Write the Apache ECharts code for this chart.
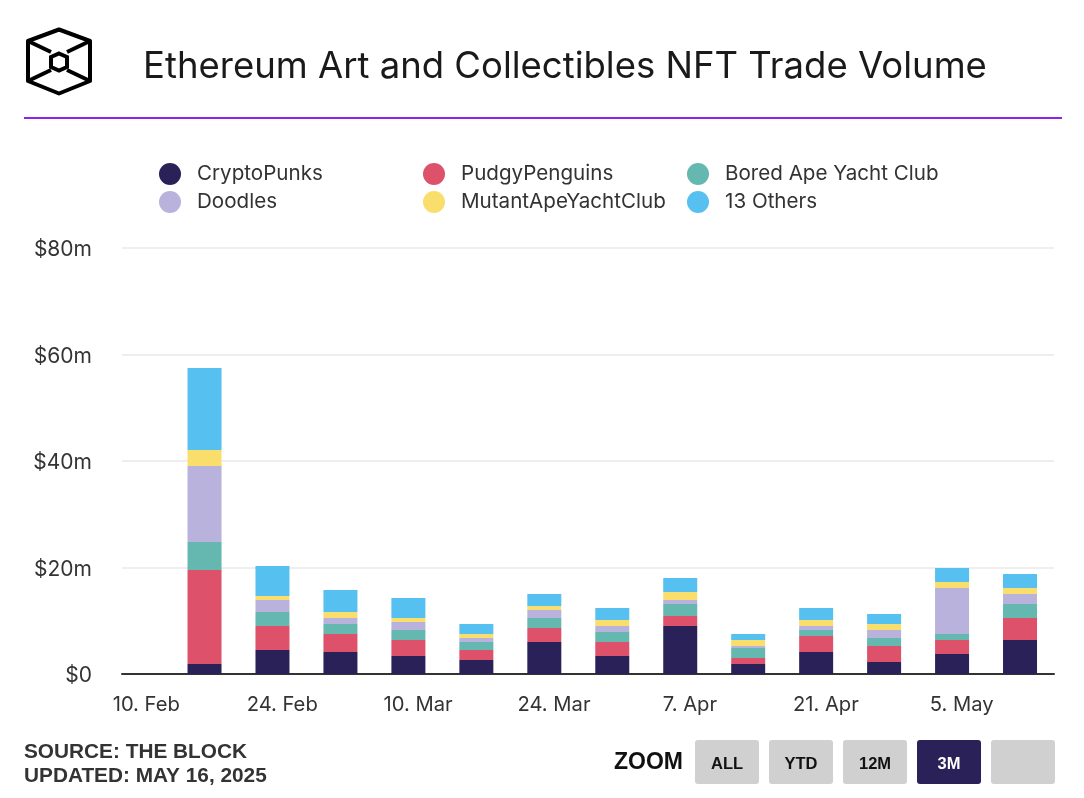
<!DOCTYPE html>
<html>
<head>
<meta charset="utf-8">
<style>html,body{margin:0;padding:0;background:#fff}#chart{width:1084px;height:798px}</style>
<script src="https://cdn.jsdelivr.net/npm/echarts@6/dist/echarts.min.js"></script>
</head>
<body>
<div id="chart"></div>
<script>
// weekly buckets, dated by the Sunday they end on
const weeks = ['2-16','2-23','3-2','3-9','3-16','3-23','3-30','4-6','4-13','4-20','4-27','5-4','5-11'];
const cryptoPunks = [1.88,4.5,4.13,3.38,2.63,6.0,3.38,9.0,1.88,4.13,2.25,3.75,6.38];
const pudgyPenguins = [17.65,4.5,3.38,3.0,1.88,2.63,2.63,1.88,1.13,3.0,3.0,2.63,4.13];
const boredApe = [5.26,2.63,1.88,1.88,1.5,1.88,1.88,2.25,1.88,1.13,1.5,1.13,2.63];
const doodles = [14.27,2.25,1.13,1.5,0.75,1.5,1.13,0.75,0.38,0.75,1.5,8.64,1.88];
const mutantApe = [3.0,0.75,1.13,0.75,0.75,0.75,1.13,1.5,1.13,1.13,1.13,1.13,1.13];
const others = [15.4,5.63,4.13,3.76,1.88,2.25,2.25,2.63,1.13,2.25,1.88,2.63,2.63];

const tickDates = ['2-10','2-24','3-10','3-24','4-7','4-21','5-5'];
const tickLabels = ['10. Feb','24. Feb','10. Mar','24. Mar','7. Apr','21. Apr','5. May'];

const seriesNames = ['CryptoPunks','PudgyPenguins','Bored Ape Yacht Club','Doodles','MutantApeYachtClub','13 Others'];
const seriesValues = [cryptoPunks,pudgyPenguins,boredApe,doodles,mutantApe,others];
const colors = ['#2a2158','#dd526a','#64b8b0','#b8b2dd','#f9de6c','#56c0f0'];

const FONT = 'Inter, "Noto Sans", sans-serif';
const BOLD = '"Liberation Sans", sans-serif';

// one category per day, 8 Feb to 14 May, so weekly bars and fortnightly labels share one scale
const days = [];
for (let d = new Date(Date.UTC(2025, 1, 8)); d <= new Date(Date.UTC(2025, 4, 14)); d.setUTCDate(d.getUTCDate() + 1)) {
  days.push((d.getUTCMonth() + 1) + '-' + d.getUTCDate());
}

const chart = echarts.init(document.getElementById('chart'), null, {renderer: 'canvas'});

function legend(left, names) {
  return {
    left: left, top: 163, padding: 0, orient: 'vertical', data: names, icon: 'circle',
    itemWidth: 22, itemHeight: 22, itemGap: 6, selectedMode: false,
    textStyle: {fontFamily: FONT, fontSize: 20.6, color: '#333', padding: [0,0,0,11]}
  };
}

function button(x, label, active) {
  return [
    {type: 'rect', shape: {x: x, y: 740, width: 64, height: 44, r: 3},
     style: {fill: active ? '#2a2158' : '#d0d0d0'}},
    {type: 'text', x: x + 32, y: 764,
     style: {text: label, fill: active ? '#fff' : '#111', align: 'center', verticalAlign: 'middle',
             font: 'bold 16.5px ' + BOLD}}
  ];
}

const stroke = {fill: 'none', stroke: '#000', lineWidth: 4};

chart.setOption({
  animation: false,
  title: [
    {text: 'Ethereum Art and Collectibles NFT Trade Volume', left: 143, top: 49, padding: 0,
     textStyle: {fontFamily: FONT, fontSize: 36.5, fontWeight: 400, color: '#1a1a1a'}},
    {text: 'SOURCE: THE BLOCK\nUPDATED: MAY 16, 2025', left: 24, top: 740, padding: 0,
     textStyle: {fontFamily: BOLD, fontSize: 20.8, fontWeight: 'bold', color: '#333', lineHeight: 24}}
  ],
  legend: [
    legend(159, [seriesNames[0], seriesNames[3]]),
    legend(423, [seriesNames[1], seriesNames[4]]),
    legend(687, [seriesNames[2], seriesNames[5]])
  ],
  grid: {left: 122, right: 30, top: 248, bottom: 124},
  xAxis: {
    type: 'category', data: days,
    axisLine: {lineStyle: {color: '#333', width: 2}},
    axisTick: {show: false},
    splitLine: {show: false},
    axisLabel: {
      interval: (i, name) => tickDates.includes(name),
      margin: 21,
      fontFamily: FONT, fontSize: 20.2, color: '#333',
      formatter: name => tickLabels[tickDates.indexOf(name)]
    }
  },
  yAxis: {
    type: 'value', min: 0, max: 80, interval: 20,
    axisLine: {show: false}, axisTick: {show: false},
    splitLine: {lineStyle: {color: '#eeeeee', width: 2}},
    axisLabel: {margin: 30, verticalAlign: 'top', lineHeight: 4, fontFamily: FONT, fontSize: 21, color: '#333',
      formatter: v => v === 0 ? '$0' : '$' + v + 'm'}
  },
  series: seriesNames.map((name, i) => ({
    name: name, type: 'bar', stack: 'total', barWidth: 34, color: colors[i],
    data: seriesValues[i].map((v, j) => [weeks[j], v])
  })),
  graphic: [
    {type: 'rect', shape: {x: 24, y: 117, width: 1038, height: 2}, style: {fill: '#9021e8'}},
    // logo
    {type: 'group', silent: true, children: [
      {type: 'polygon', shape: {points: [[59,29.5],[90,41],[90,81],[59,93.5],[28,81],[28,41]]}, style: {...stroke, lineJoin: 'round'}},
      {type: 'polygon', shape: {points: [[59,53.5],[67,57],[67,67],[59,70.5],[51,67],[51,57]]}, style: stroke},
      {type: 'polyline', shape: {points: [[28,41],[51,52]]}, style: stroke},
      {type: 'polyline', shape: {points: [[90,41],[67,52]]}, style: stroke},
      {type: 'polyline', shape: {points: [[28,81],[51,70]]}, style: stroke},
      {type: 'polyline', shape: {points: [[90,81],[67,70]]}, style: stroke}
    ]},
    {type: 'text', x: 614, y: 763,
     style: {text: 'ZOOM', fill: '#111', verticalAlign: 'middle', font: 'bold 23px ' + BOLD}},
    ...button(695, 'ALL', false),
    ...button(769, 'YTD', false),
    ...button(843, '12M', false),
    ...button(917, '3M', true),
    ...button(991, '', false)
  ]
});
</script>
</body>
</html>
